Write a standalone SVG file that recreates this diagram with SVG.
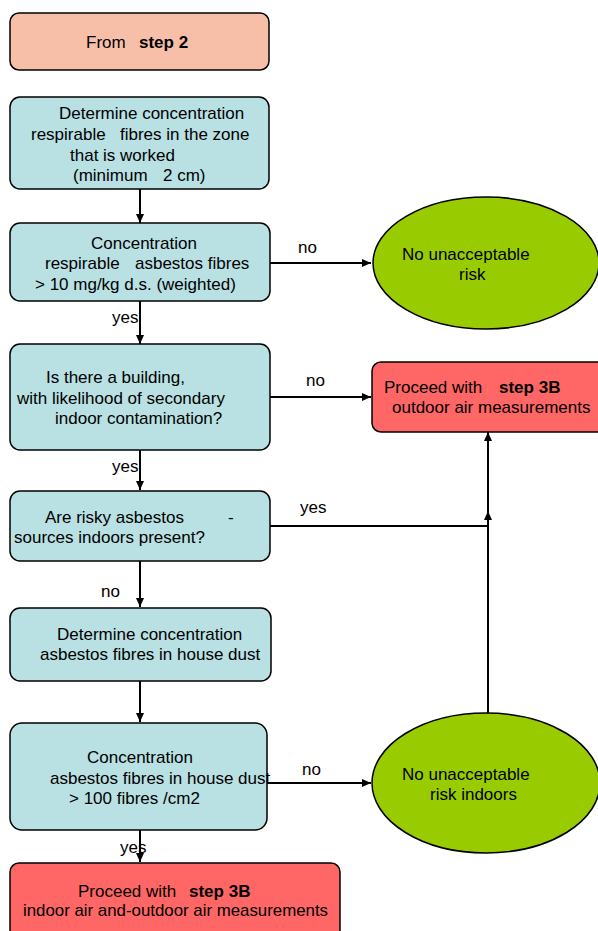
<svg xmlns="http://www.w3.org/2000/svg" width="598" height="931" viewBox="0 0 598 931">
<defs>
<marker id="ah" markerWidth="10" markerHeight="10" refX="9" refY="5" orient="auto" markerUnits="userSpaceOnUse">
<path d="M0,1 L9,5 L0,9 Z" fill="#000"/>
</marker>
<style>
text{font-family:"Liberation Sans",Arial,sans-serif;font-size:17px;fill:#000}
.b{font-weight:bold}
.n{stroke:#000;stroke-width:1.5}
.s{fill:#F8BFA8}
.c{fill:#B9E0E3}
.r{fill:#FF6666}
.g{fill:#99CC00}
.e{fill:none;stroke:#000;stroke-width:2}
</style>
</defs>
<rect width="598" height="931" fill="#fff"/>
<g id="connectors">
<path class="e" d="M140,189 V223" marker-end="url(#ah)"/>
<path class="e" d="M270,263 H371" marker-end="url(#ah)"/>
<path class="e" d="M140,301 V344" marker-end="url(#ah)"/>
<path class="e" d="M270,397 H371" marker-end="url(#ah)"/>
<path class="e" d="M140,450 V490" marker-end="url(#ah)"/>
<path class="e" d="M270,526 H488 V432" marker-end="url(#ah)"/>
<path class="e" d="M488,713 V511" marker-end="url(#ah)"/>
<path class="e" d="M140,561 V607" marker-end="url(#ah)"/>
<path class="e" d="M140,681 V722" marker-end="url(#ah)"/>
<path class="e" d="M267,783 H371" marker-end="url(#ah)"/>
<path class="e" d="M140,830 V862" marker-end="url(#ah)"/>
<text x="298" y="253">no</text>
<text x="112" y="323">yes</text>
<text x="306" y="386">no</text>
<text x="112" y="472">yes</text>
<text x="300" y="513">yes</text>
<text x="101" y="597">no</text>
<text x="302" y="775">no</text>
<text x="120" y="853">yes</text>
</g>
<g id="start">
<rect class="n s" x="10" y="13" width="259" height="57" rx="9"/>
<text x="86" y="48">From</text>
<text class="b" x="139" y="48">step 2</text>
</g>
<g id="determine1">
<rect class="n c" x="10" y="97" width="259" height="92" rx="10"/>
<text x="59" y="119">Determine concentration</text>
<text x="31" y="140">respirable</text>
<text x="120" y="140">fibres in the zone</text>
<text x="70" y="161">that is worked</text>
<text x="73" y="181">(minimum</text>
<text x="163" y="181">2 cm)</text>
</g>
<g id="conc1">
<rect class="n c" x="10" y="223" width="260" height="78" rx="10"/>
<text x="91" y="249">Concentration</text>
<text x="45" y="269">respirable</text>
<text x="135" y="269">asbestos fibres</text>
<text x="35" y="290">&gt; 10 mg/kg d.s. (weighted)</text>
</g>
<g id="norisk1">
<ellipse class="n g" cx="486" cy="263" rx="113" ry="66"/>
<text x="402" y="260">No unacceptable</text>
<text x="459" y="280">risk</text>
</g>
<g id="building">
<rect class="n c" x="10" y="344" width="260" height="106" rx="10"/>
<text x="46" y="383">Is there a building,</text>
<text x="17" y="404">with likelihood of secondary</text>
<text x="55" y="424">indoor contamination?</text>
</g>
<g id="step3b-outdoor">
<rect class="n r" x="372" y="362" width="234" height="70" rx="9"/>
<text x="384" y="393">Proceed with</text>
<text class="b" x="499" y="393">step 3B</text>
<text x="392" y="413">outdoor air measurements</text>
</g>
<g id="sources">
<rect class="n c" x="10" y="491" width="260" height="70" rx="10"/>
<text x="45" y="523">Are risky asbestos</text>
<text x="228" y="523">-</text>
<text x="14" y="543">sources indoors present?</text>
</g>
<g id="determine2">
<rect class="n c" x="10" y="608" width="261" height="73" rx="10"/>
<text x="57" y="640">Determine concentration</text>
<text x="40" y="660">asbestos fibres in house dust</text>
</g>
<g id="conc2">
<rect class="n c" x="10" y="723" width="257" height="107" rx="12"/>
<text x="87" y="763">Concentration</text>
<text x="50" y="784">asbestos fibres in house dust</text>
<text x="69" y="804">&gt; 100 fibres /cm2</text>
</g>
<g id="norisk2">
<ellipse class="n g" cx="486" cy="783" rx="114" ry="70"/>
<text x="402" y="780">No unacceptable</text>
<text x="430" y="800">risk indoors</text>
</g>
<g id="step3b-indoor">
<rect class="n r" x="10" y="863" width="330" height="80" rx="9"/>
<text x="78" y="897">Proceed with</text>
<text class="b" x="189" y="897">step 3B</text>
<text x="23" y="916" textLength="305" lengthAdjust="spacingAndGlyphs">indoor air and-outdoor air measurements</text>
</g>
</svg>
